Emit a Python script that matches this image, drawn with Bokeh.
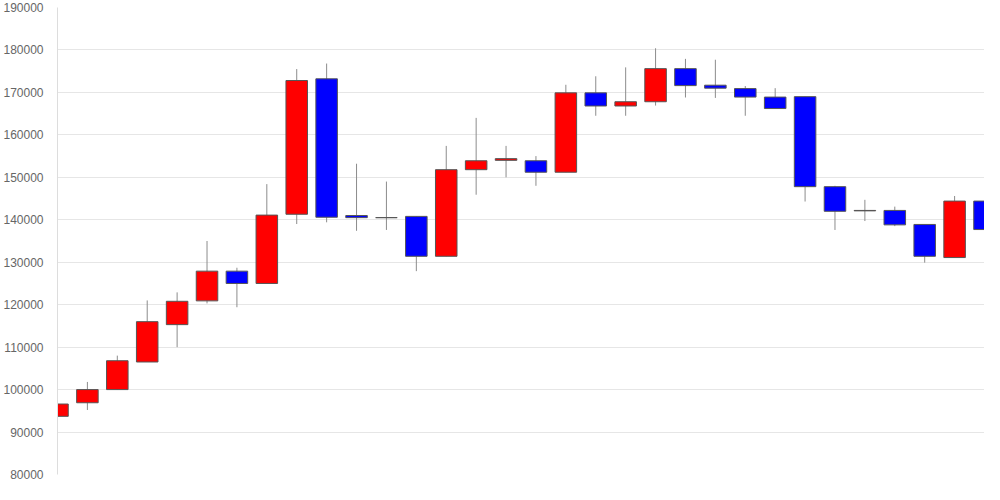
from bokeh.plotting import figure
from bokeh.models import Range1d, SingleIntervalTicker, BasicTickFormatter, ColumnDataSource
from bokeh.embed import file_html
from bokeh.resources import INLINE

idx = list(range(32))
opens = [93700, 96900, 100000, 106500, 115300, 120900, 127900, 125000, 141300, 173200,
         141000, 140500, 140800, 131400, 151800, 154000, 153900, 151200, 169900, 166800,
         167800, 175600, 171700, 170900, 168900, 169000, 147800, 142100, 142200, 138900,
         131100, 144400]
highs = [98500, 101800, 108000, 121000, 122900, 135000, 128700, 148400, 175500, 176800,
         153200, 149000, 140800, 157400, 164000, 157400, 155000, 171800, 173800, 175900,
         180400, 177900, 177700, 171500, 171000, 169000, 148000, 144700, 143100, 138900,
         145600, 145900]
lows = [92500, 95200, 100000, 106500, 110000, 120300, 119400, 125000, 139000, 139400,
        137400, 137600, 127900, 131400, 145900, 150000, 148000, 151200, 164500, 164500,
        166900, 168800, 168700, 164500, 166200, 144300, 137600, 139700, 138500, 129900,
        131100, 134100]
closes = [96600, 100000, 106800, 116000, 120800, 127900, 125000, 141100, 172800, 140600,
          140500, 140500, 131400, 151800, 153900, 154400, 151200, 169900, 166800, 167800,
          175600, 171600, 171000, 168900, 166200, 147800, 142000, 142200, 138800, 131400,
          144400, 137700]

colors = ["#ff0000" if c >= o else "#0000ff" for o, c in zip(opens, closes)]
source = ColumnDataSource(dict(x=idx, open=opens, high=highs, low=lows, close=closes,
                               top=[max(o, c) for o, c in zip(opens, closes)],
                               bottom=[min(o, c) for o, c in zip(opens, closes)],
                               color=colors))

p = figure(width=984, height=484, output_backend="svg", toolbar_location=None,
           x_range=Range1d(0, 31), y_range=Range1d(80000, 190000),
           min_border_left=49, min_border_right=0, min_border_top=7, min_border_bottom=10)
p.outline_line_color = None
p.background_fill_color = "white"
p.border_fill_color = "white"

p.segment(x0="x", y0="low", x1="x", y1="high", source=source, line_color="#8c8c8c", line_width=1)
p.vbar(x="x", width=0.72, top="top", bottom="bottom", source=source,
       fill_color="color", line_color="#555555", line_width=1)

p.xaxis.visible = False
p.xgrid.visible = False
p.ygrid.grid_line_color = "#e6e6e6"
p.yaxis.ticker = SingleIntervalTicker(interval=10000)
p.yaxis.formatter = BasicTickFormatter(use_scientific=False)
p.yaxis.major_tick_line_color = None
p.yaxis.minor_tick_line_color = None
p.yaxis.axis_line_color = "#dddddd"
p.yaxis.major_label_standoff = 8
p.yaxis.major_label_text_font = "Liberation Sans"
p.yaxis.major_label_text_font_size = "12px"
p.yaxis.major_label_text_color = "#666666"

open("out.html", "w").write(file_html(p, INLINE))
